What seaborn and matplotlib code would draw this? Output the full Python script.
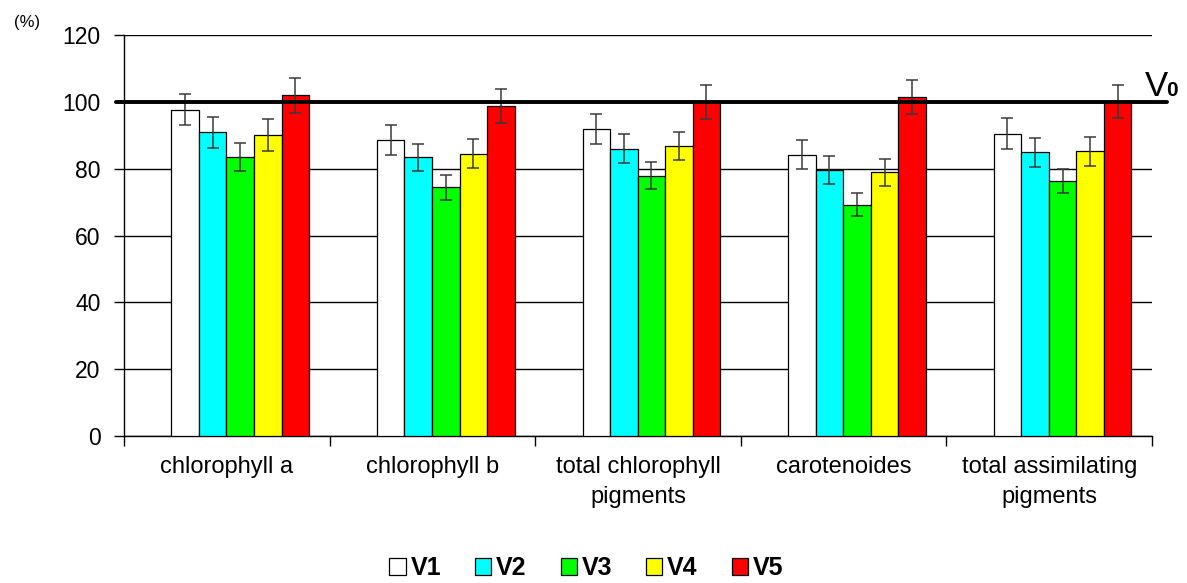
import pandas as pd
import numpy as np
import matplotlib
matplotlib.use('Agg')
import matplotlib.pyplot as plt
import seaborn as sns

categories = ['chlorophyll a', 'chlorophyll b', 'total chlorophyll\npigments',
              'carotenoides', 'total assimilating\npigments']
variants = ['V1', 'V2', 'V3', 'V4', 'V5']

# means (% of control V0)
v1 = [97.7, 88.7, 92.0, 84.2, 90.5]
v2 = [90.9, 83.4, 86.0, 79.6, 84.9]
v3 = [83.4, 74.4, 77.9, 69.2, 76.3]
v4 = [90.1, 84.5, 86.8, 78.9, 85.2]
v5 = [101.9, 98.8, 100.0, 101.4, 100.0]

# error bar half-widths
e1 = [4.7, 4.5, 4.5, 4.3, 4.7]
e2 = [4.7, 4.1, 4.3, 4.1, 4.3]
e3 = [4.2, 3.8, 4.0, 3.5, 3.7]
e4 = [4.7, 4.3, 4.3, 4.0, 4.3]
e5 = [5.1, 5.1, 5.0, 5.1, 4.9]

colors = ['#FFFFFF', '#00FFFF', '#00FF00', '#FFFF00', '#FF0000']

means = [v1, v2, v3, v4, v5]
errs = [e1, e2, e3, e4, e5]

df = pd.DataFrame({
    'category': np.tile(categories, len(variants)),
    'variant': np.repeat(variants, len(categories)),
    'value': np.concatenate(means),
})

sns.set_theme(style='white')
plt.rcParams['font.family'] = ['Liberation Sans', 'DejaVu Sans']
plt.rcParams['text.color'] = 'black'
plt.rcParams['xtick.color'] = 'black'
plt.rcParams['ytick.color'] = 'black'

fig = plt.figure(figsize=(11.87, 5.83), dpi=100)
ax = fig.add_axes([0.1045, 0.252, 0.866, 0.688])

sns.barplot(data=df, x='category', y='value', hue='variant', order=categories,
            hue_order=variants, palette=colors, saturation=1, width=0.67, gap=0,
            edgecolor='black', linewidth=0.9, errorbar=None, legend=False,
            zorder=3, ax=ax)

# error bars on top of each bar
for cont, err in zip(ax.containers, errs):
    xs = [b.get_x() + b.get_width() / 2 for b in cont]
    ys = [b.get_height() for b in cont]
    ax.errorbar(xs, ys, yerr=err, fmt='none', ecolor='#3a3a3a',
                elinewidth=1.1, capsize=4, capthick=1.1, zorder=4)

shift = 0.065
ax.set_xlim(-0.5 - shift, 4.5 - shift)
ax.set_ylim(0, 120)
ax.set_yticks(np.arange(0, 121, 20))
ax.tick_params(axis='y', labelsize=16.5, length=7, width=1, colors='black',
               direction='out', left=True, pad=10)
ax.set_xticks(np.arange(5) - shift)
ax.set_xticklabels(categories, fontsize=17, linespacing=1.5, color='black')
ax.set_xticks(np.arange(6) - 0.5 - shift, minor=True)
ax.tick_params(axis='x', which='major', length=0, pad=14)
ax.tick_params(axis='x', which='minor', length=7, width=1, color='black',
               direction='out', bottom=True)
ax.set_xlabel('')
ax.set_ylabel('')

ax.grid(axis='y', color='black', linewidth=1)
ax.grid(axis='x', visible=False)
ax.set_axisbelow(True)
for side in ['top', 'right']:
    ax.spines[side].set_visible(False)
for side in ['left', 'bottom']:
    ax.spines[side].set_color('black')
    ax.spines[side].set_linewidth(1)

# control level V0 = 100 %
ax.plot([-0.539 - shift, 4.575 - shift], [100, 100], color='black', lw=2.8,
        clip_on=False, zorder=5)
fig.text(0.9645, 0.835, 'V', fontsize=25, ha='left', va='baseline')
fig.text(0.9825, 0.835, '0', fontsize=15, ha='left', va='baseline',
         fontweight='bold')

fig.text(0.023, 0.962, '(%)', fontsize=12, ha='center', va='center')

handles = [plt.Rectangle((0, 0), 1, 1, facecolor=c, edgecolor='black', lw=0.9)
           for c in colors]
fig.legend(handles, variants, loc='center', bbox_to_anchor=(0.494, 0.025),
           ncol=5, frameon=False, handlelength=0.65, handleheight=0.7,
           handletextpad=0.2, columnspacing=1.35,
           prop={'size': 18, 'weight': 'bold'})

fig.savefig('out.png', dpi=100)
